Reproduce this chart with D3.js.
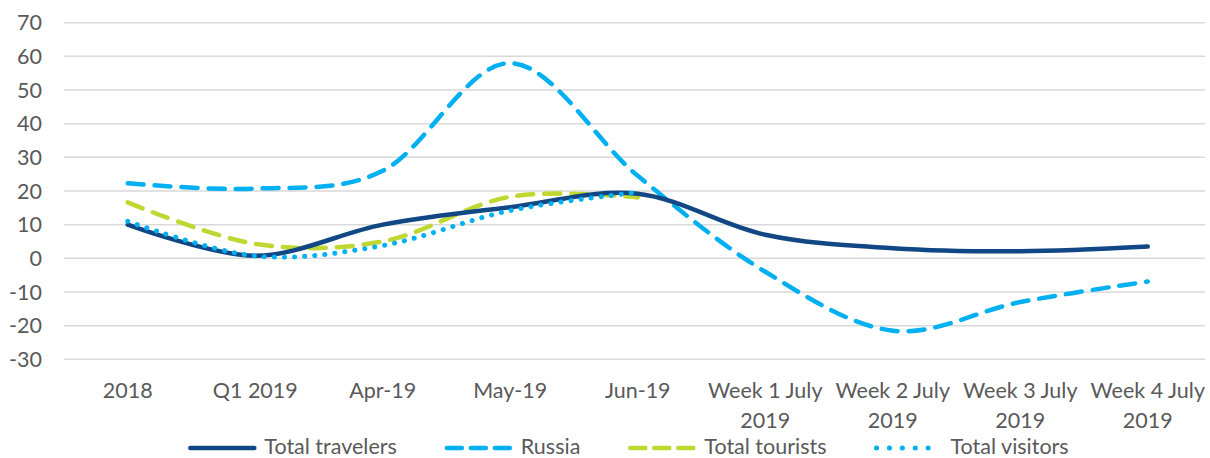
<!DOCTYPE html>
<html>
<head>
<meta charset="utf-8">
<script src="https://cdn.jsdelivr.net/npm/d3@7"></script>
<style>
  html, body { margin: 0; padding: 0; background: #fff; }
  svg { display: block; font-family: Lato, "Open Sans", sans-serif; }
</style>
</head>
<body>
<svg id="chart" width="1210" height="458"></svg>
<script>
const categories = ["2018", "Q1 2019", "Apr-19", "May-19", "Jun-19",
  "Week 1 July 2019", "Week 2 July 2019", "Week 3 July 2019", "Week 4 July 2019"];
const yTicks = [-30, -20, -10, 0, 10, 20, 30, 40, 50, 60, 70];

const travelers = [10, 0.8, 10, 15.2, 19.2, 7.0, 3.0, 2.1, 3.5];
const russia = [22.3, 20.7, 26, 58, 24.5, -4, -21.5, -13, -6.9];
const tourists = [16.6, 4.3, 5, 18.3, 18.1, null, null, null, null];
const visitors = [11, 0.7, 3.8, 14.2, 19.6, null, null, null, null];

const seriesNames = ["Total travelers", "Russia", "Total tourists", "Total visitors"];

(() => {
  const svg = d3.select("#chart");
  const textColor = "#595959";
  const fontSize = "21.5px";

  const x = d3.scalePoint()
    .domain(categories)
    .range([64, 1211.5])
    .padding(0.5);

  const y = d3.scaleLinear()
    .domain([-30, 70])
    .range([359.3, 22.7]);

  // grid lines
  svg.append("g")
    .selectAll("line")
    .data(yTicks)
    .join("line")
    .attr("x1", 64)
    .attr("x2", 1205)
    .attr("y1", d => y(d))
    .attr("y2", d => y(d))
    .attr("stroke", "#d9d9d9")
    .attr("stroke-width", 1.5);

  // y axis labels
  svg.append("g")
    .selectAll("text")
    .data(yTicks)
    .join("text")
    .attr("x", 42)
    .attr("y", d => y(d))
    .attr("dy", "0.35em")
    .attr("text-anchor", "end")
    .attr("fill", textColor)
    .style("font-size", fontSize)
    .text(d => d);

  // x axis labels, wrapped when wider than the band
  const bandW = x.step() - 4;
  const xLabels = svg.append("g")
    .selectAll("text")
    .data(categories)
    .join("text")
    .attr("x", d => x(d))
    .attr("y", 390)
    .attr("dy", "0.35em")
    .attr("text-anchor", "middle")
    .attr("fill", textColor)
    .style("font-size", fontSize)
    .text(d => d);

  xLabels.each(function(d) {
    const t = d3.select(this);
    if (this.getComputedTextLength() <= bandW) return;
    const words = d.split(" ");
    let first = words.slice();
    let rest = [];
    while (first.length > 1) {
      rest.unshift(first.pop());
      t.text(first.join(" "));
      if (this.getComputedTextLength() <= bandW) break;
    }
    t.text(null);
    t.append("tspan").attr("x", x(d)).text(first.join(" "));
    t.append("tspan").attr("x", x(d)).attr("dy", 30).text(rest.join(" "));
  });

  // lines
  const styles = [
    { data: travelers, color: "#114784", dash: null },
    { data: russia, color: "#00b0f0", dash: "16,11" },
    { data: tourists, color: "#bfd730", dash: "16,11" },
    { data: visitors, color: "#00b0f0", dash: "0.1,10" }
  ];

  const line = d3.line()
    .defined(d => d.v != null)
    .x(d => x(d.c))
    .y(d => y(d.v))
    .curve(d3.curveCardinal.tension(0));

  // dashed series first, travelers and visitors on top
  const drawOrder = [1, 2, 0, 3];
  drawOrder.forEach(i => {
    const s = styles[i];
    const pts = categories.map((c, k) => ({ c, v: s.data[k] }));
    svg.append("path")
      .datum(pts)
      .attr("d", line)
      .attr("fill", "none")
      .attr("stroke", s.color)
      .attr("stroke-width", i === 3 ? 5 : 4.5)
      .attr("stroke-linecap", "round")
      .attr("stroke-linejoin", "round")
      .attr("stroke-dasharray", s.dash);
  });

  // legend
  const legend = svg.append("g");
  const symW = 70, gapText = 7, gapItem = 47;
  let cx = 0;
  seriesNames.forEach((name, i) => {
    const s = styles[i];
    const g = legend.append("g").attr("transform", `translate(${cx},0)`);
    g.append("line")
      .attr("x1", 3).attr("x2", symW - 3)
      .attr("y1", 2).attr("y2", 2)
      .attr("stroke", s.color)
      .attr("stroke-width", i === 3 ? 5 : 4.5)
      .attr("stroke-linecap", "round")
      .attr("stroke-dasharray", i === 3 ? "0.1,12.8" : (s.dash ? "15,9" : null));
    const t = g.append("text")
      .attr("x", symW + gapText)
      .attr("y", 0)
      .attr("dy", "0.35em")
      .attr("fill", textColor)
      .style("font-size", fontSize)
      .text(name);
    cx += symW + gapText + t.node().getComputedTextLength() + gapItem;
  });
  const totalW = cx - gapItem;
  legend.attr("transform", `translate(${628 - totalW / 2},446)`);
})();
</script>
</body>
</html>
